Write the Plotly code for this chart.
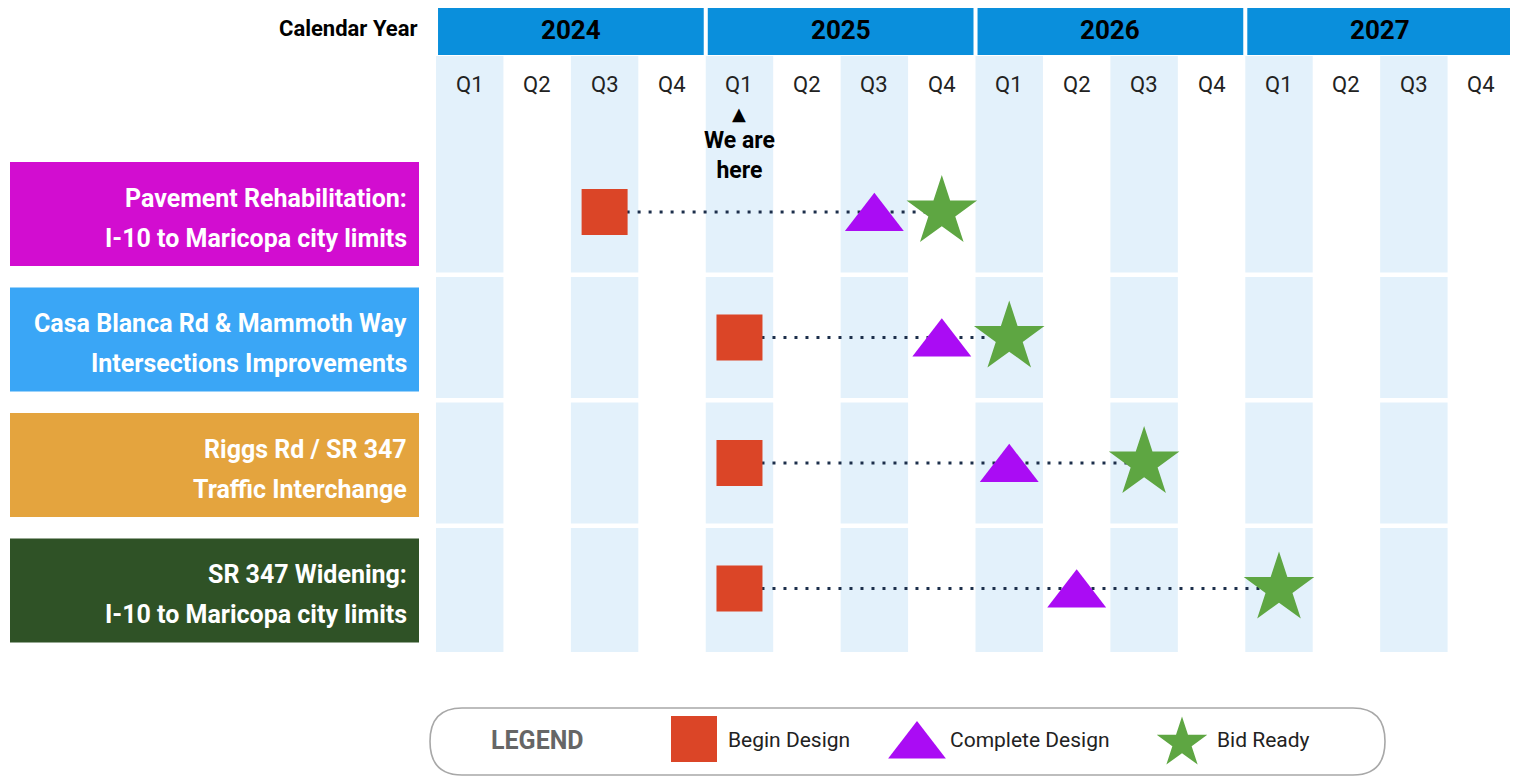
import plotly.graph_objects as go

W, H = 1518, 777
OFF = 8  # page body margin of the written html

# ---------------- data ----------------
years = [2024, 2025, 2026, 2027]
quarters = ["Q1", "Q2", "Q3", "Q4"]
projects = [
    "Pavement Rehabilitation:<br>I-10 to Maricopa city limits",
    "Casa Blanca Rd & Mammoth Way<br>Intersections Improvements",
    "Riggs Rd / SR 347<br>Traffic Interchange",
    "SR 347 Widening:<br>I-10 to Maricopa city limits",
]
project_colors = ["#d20dd0", "#3aa6f6", "#e4a43e", "#2f5226"]
begin_design = ["2024 Q3", "2025 Q1", "2025 Q1", "2025 Q1"]
complete_design = ["2025 Q3", "2025 Q4", "2026 Q1", "2026 Q2"]
bid_ready = ["2025 Q4", "2026 Q1", "2026 Q3", "2027 Q1"]
current_quarter = "2025 Q1"
milestones = ["Begin Design", "Complete Design", "Bid Ready"]

# ---------------- style / layout constants ----------------
FONT = "Roboto, Liberation Sans, sans-serif"
C_SQ, C_TRI, C_STAR = "#db4527", "#aa0cf4", "#5ea642"
C_HEAD = "#0a8fdc"
C_SHADE = "#e3f1fb"
PX_LEFT, QW = 436.0, 67.44      # page pixel of first quarter edge, quarter width
ROW0, ROWH = 212.0, 125.5        # page pixel of first row center, row pitch


def qidx(s):
    y, q = s.split()
    return (int(y) - years[0]) * 4 + quarters.index(q) + 0.5


nq = len(years) * 4
xr = [-(PX_LEFT - OFF) / QW, (W + OFF - PX_LEFT) / QW]
yr = [(H + OFF - ROW0) / ROWH, -(ROW0 - OFF) / ROWH]

fig = go.Figure()
shapes, annos = [], []

# shaded columns (Q1, Q3)
for i in range(nq):
    if i % 2 == 0:
        shapes.append(dict(type="rect", xref="x", yref="y2", x0=i, x1=i + 1, y0=56, y1=652,
                           fillcolor=C_SHADE, line_width=0, layer="below"))
# white row separators
for r in range(1, len(projects)):
    yb = ROW0 + ROWH * (r - 0.5)
    shapes.append(dict(type="rect", xref="x", yref="y2", x0=0, x1=nq, y0=yb - 2.2, y1=yb + 2.2,
                       fillcolor="white", line_width=0, layer="below"))
# year header bars
for k, yv in enumerate(years):
    shapes.append(dict(type="rect", xref="x", yref="y2", x0=4 * k + 0.03, x1=4 * k + 4 - 0.03,
                       y0=3, y1=55, fillcolor=C_HEAD, line_width=0, layer="below"))
    annos.append(dict(xref="x", yref="y2", x=4 * k + 2, y=30, text=f"<b>{yv}</b>", showarrow=False,
                      font=dict(family=FONT, size=26, color="#000")))
    for j, q in enumerate(quarters):
        annos.append(dict(xref="x", yref="y2", x=4 * k + j + 0.5, y=84, text=q, showarrow=False,
                          font=dict(family=FONT, size=22, color="#222")))

annos.append(dict(xref="x2", yref="y2", x=420, y=28, text="<b>Calendar Year</b>", showarrow=False,
                  xanchor="right", font=dict(family=FONT, size=22, color="#000")))

# we are here
cq = qidx(current_quarter)
annos.append(dict(xref="x", yref="y2", x=cq, y=113, text="▲", showarrow=False,
                  font=dict(family="DejaVu Sans", size=18, color="#000")))
annos.append(dict(xref="x", yref="y2", x=cq, y=155, text="<b>We are<br>here</b>", showarrow=False,
                  font=dict(family=FONT, size=23, color="#000")))

# project label boxes
for r, (p, c) in enumerate(zip(projects, project_colors)):
    yc = ROW0 + ROWH * r + 2
    shapes.append(dict(type="rect", xref="x2", yref="y2", x0=10, x1=419, y0=yc - 52, y1=yc + 52,
                       fillcolor=c, line_width=0, layer="below"))
    for li, line in enumerate(p.split("<br>")):
        annos.append(dict(xref="x2", yref="y2", x=409, y=yc - 16 + 40 * li, text=f"<b>{line}</b>",
                          showarrow=False, xanchor="right", align="right",
                          font=dict(family=FONT, size=25, color="white")))

# dotted connectors
for r in range(len(projects)):
    fig.add_trace(go.Scatter(x=[qidx(begin_design[r]), qidx(bid_ready[r])], y=[r, r], mode="lines",
                             line=dict(color="#1c2e4a", width=3, dash="3px,8px"),
                             hoverinfo="skip", showlegend=False))

rows = list(range(len(projects)))
TRI_DY = 0.05
fig.add_trace(go.Scatter(x=[qidx(s) for s in begin_design], y=rows, mode="markers", name=milestones[0],
                         marker=dict(symbol="square", size=46, color=C_SQ), showlegend=False))
fig.add_trace(go.Scatter(x=[qidx(s) for s in complete_design], y=[r + TRI_DY for r in rows], mode="markers",
                         name=milestones[1], marker=dict(symbol="triangle-up", size=51, color=C_TRI),
                         showlegend=False))
fig.add_trace(go.Scatter(x=[qidx(s) for s in bid_ready], y=rows, mode="markers", name=milestones[2],
                         marker=dict(symbol="star", size=53, color=C_STAR), showlegend=False))

# ---------------- legend (drawn) ----------------
LX0, LX1, LY0, LY1, RAD = 430, 1385, 708, 775, 32
path = (f"M {LX0+RAD},{LY0} L {LX1-RAD},{LY0} Q {LX1},{LY0} {LX1},{(LY0+LY1)/2} "
        f"Q {LX1},{LY1} {LX1-RAD},{LY1} L {LX0+RAD},{LY1} Q {LX0},{LY1} {LX0},{(LY0+LY1)/2} "
        f"Q {LX0},{LY0} {LX0+RAD},{LY0} Z")
shapes.append(dict(type="path", xref="x2", yref="y2", path=path, fillcolor="white", layer="below",
                   line=dict(color="#a8a8a8", width=1.6)))
annos.append(dict(xref="x2", yref="y2", x=537, y=740, text="<b>LEGEND</b>", showarrow=False,
                  font=dict(family=FONT, size=25, color="#666")))
leg_x = [694, 917, 1182]
leg_tx = [726, 948, 1215]
leg_sym = ["square", "triangle-up", "star"]
leg_size = [46, 50, 38]
leg_col = [C_SQ, C_TRI, C_STAR]
leg_dy = [0, 7, 4]
for i in range(3):
    fig.add_trace(go.Scatter(x=[leg_x[i]], y=[739 + leg_dy[i]], xaxis="x2", yaxis="y2", mode="markers",
                             marker=dict(symbol=leg_sym[i], size=leg_size[i], color=leg_col[i]),
                             hoverinfo="skip", showlegend=False))
    annos.append(dict(xref="x2", yref="y2", x=leg_tx[i], y=740, text=milestones[i], showarrow=False,
                      xanchor="left", font=dict(family=FONT, size=21, color="#222")))

ax_off = dict(visible=False, showgrid=False, zeroline=False, fixedrange=True)
fig.update_layout(
    width=W, height=H, margin=dict(l=0, r=0, t=0, b=0),
    paper_bgcolor="white", plot_bgcolor="rgba(0,0,0,0)",
    xaxis=dict(range=xr, domain=[0, 1], **ax_off),
    yaxis=dict(range=yr, domain=[0, 1], **ax_off),
    xaxis2=dict(range=[OFF, W + OFF], domain=[0, 1], overlaying="x", **ax_off),
    yaxis2=dict(range=[H + OFF, OFF], domain=[0, 1], overlaying="y", **ax_off),
    shapes=shapes, annotations=annos, showlegend=False,
)
fig.write_html("out.html", config={"displayModeBar": False})
